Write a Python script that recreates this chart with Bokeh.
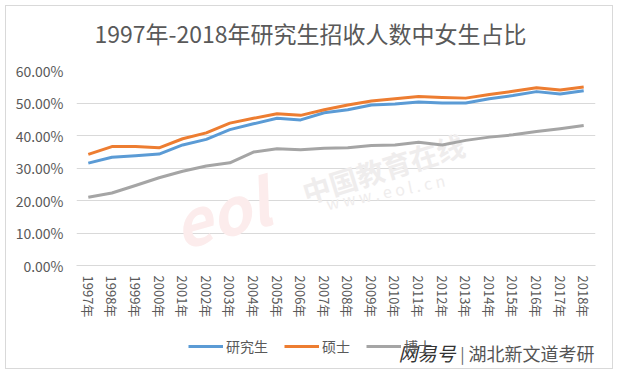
from bokeh.plotting import figure
from bokeh.layouts import column
from bokeh.models import Range1d, FixedTicker, NumeralTickFormatter, Legend, LegendItem, Label
from bokeh.embed import file_html
from bokeh.resources import INLINE

years = ["1997年", "1998年", "1999年", "2000年", "2001年", "2002年", "2003年", "2004年",
         "2005年", "2006年", "2007年", "2008年", "2009年", "2010年", "2011年", "2012年",
         "2013年", "2014年", "2015年", "2016年", "2017年", "2018年"]
yanjiusheng = [0.315, 0.333, 0.338, 0.343, 0.371, 0.388, 0.418, 0.436, 0.453, 0.448, 0.470,
               0.479, 0.494, 0.497, 0.503, 0.500, 0.500, 0.513, 0.523, 0.535, 0.528, 0.538]
shuoshi = [0.342, 0.366, 0.366, 0.362, 0.390, 0.408, 0.438, 0.453, 0.467, 0.462, 0.479,
           0.494, 0.506, 0.513, 0.520, 0.517, 0.515, 0.526, 0.536, 0.547, 0.540, 0.549]
boshi = [0.210, 0.223, 0.246, 0.270, 0.290, 0.306, 0.316, 0.349, 0.359, 0.356, 0.361,
         0.362, 0.369, 0.371, 0.379, 0.371, 0.385, 0.395, 0.402, 0.412, 0.421, 0.431]
series_names = ["研究生", "硕士", "博士"]
y_ticks = [0.0, 0.1, 0.2, 0.3, 0.4, 0.5, 0.6]
title_text = "1997年-2018年研究生招收人数中女生占比"
source_brand = "网易号"
source_name = "湖北新文道考研"

xs = list(range(len(years)))
series = [yanjiusheng, shuoshi, boshi]
colors = ["#5b9bd5", "#ed7d31", "#a5a5a5"]
FONT = "Noto Sans CJK SC"
TXT = "#595959"
W = 606
LEFT, RIGHT = 70, 17


def strip(h):
    # frames of the column's children are aligned with the chart's frame,
    # so the x range is given in pixel units of that frame
    f = figure(width=W, height=h, output_backend="svg", toolbar_location=None,
               x_range=Range1d(LEFT, W - RIGHT), y_range=Range1d(0, h),
               min_border=0, min_border_left=LEFT, min_border_right=RIGHT,
               x_axis_location=None, y_axis_location=None)
    f.grid.grid_line_color = None
    f.outline_line_color = None
    f.background_fill_color = "white"
    f.border_fill_color = "white"
    return f


# ---- title strip ----
p_top = strip(54)
p_top.add_layout(Label(x=304, y=28, text=title_text, text_font=FONT, text_font_size="23px",
                       text_color=TXT, text_align="center", text_baseline="middle"))

# ---- main chart ----
p = figure(width=W, height=264, output_backend="svg", toolbar_location=None,
           x_range=Range1d(-0.5, len(years) - 0.5), y_range=Range1d(0, 0.6),
           min_border_left=LEFT, min_border_right=RIGHT, min_border_top=10, min_border_bottom=59)
p.outline_line_color = None
p.background_fill_color = "white"
p.border_fill_color = "white"

p.xaxis.ticker = FixedTicker(ticks=xs)
p.xaxis.major_label_overrides = {i: years[i] for i in xs}
p.xaxis.major_label_orientation = "vertical"
p.xaxis.axis_line_color = "#d9d9d9"
p.xaxis.major_tick_line_color = None
p.xaxis.major_tick_out = 0
p.xaxis.major_tick_in = 0
p.xaxis.minor_tick_line_color = None
p.xaxis.major_label_standoff = 10
p.xaxis.major_label_text_font = FONT
p.xaxis.major_label_text_font_size = "13px"
p.xaxis.major_label_text_color = TXT

p.yaxis.ticker = FixedTicker(ticks=y_ticks)
p.yaxis.formatter = NumeralTickFormatter(format="0.00%")
p.yaxis.axis_line_color = None
p.yaxis.major_tick_line_color = None
p.yaxis.major_tick_out = 0
p.yaxis.major_tick_in = 0
p.yaxis.minor_tick_line_color = None
p.yaxis.major_label_standoff = 13
p.yaxis.major_label_text_font = FONT
p.yaxis.major_label_text_font_size = "14px"
p.yaxis.major_label_text_color = TXT

p.xgrid.grid_line_color = None
p.ygrid.grid_line_color = "#d9d9d9"
p.ygrid.ticker = FixedTicker(ticks=y_ticks)

# watermark
p.add_layout(Label(x=5.6, y=0.17, text="eol", text_font=FONT, text_font_size="64px",
                   text_font_style="bold italic", text_color="#fcecec",
                   text_align="center", text_baseline="middle", angle=0.28, level="underlay"))
p.add_layout(Label(x=12.5, y=0.30, text="中国教育在线", text_font=FONT, text_font_size="28px",
                   text_font_style="bold", text_color="#efeded",
                   text_align="center", text_baseline="middle", angle=0.30, level="underlay"))
p.add_layout(Label(x=12.6, y=0.228, text="w w w . e o l . c n", text_font=FONT, text_font_size="16px",
                   text_color="#efeded",
                   text_align="center", text_baseline="middle", angle=0.20, level="underlay"))

for vals, c in zip(series, colors):
    p.line(xs, vals, line_color=c, line_width=3, line_join="round")

# ---- legend / source strip ----
p_bot = strip(44)
items = []
for name, vals, c in zip(series_names, series, colors):
    r = p_bot.line(xs, vals, line_color=c, line_width=3, visible=False)
    items.append(LegendItem(label=name, renderers=[r]))
legend = Legend(items=items, orientation="horizontal", location=(112, 12), padding=0, margin=0,
                border_line_color=None, background_fill_alpha=0, inactive_fill_alpha=0,
                glyph_width=35, glyph_height=20, label_height=20, label_standoff=3, spacing=16,
                label_text_font=FONT, label_text_font_size="14px", label_text_color=TXT)
p_bot.add_layout(legend, "center")
p_bot.add_layout(Label(x=449, y=16, text=source_brand, text_font=FONT, text_font_size="19px",
                       text_font_style="italic", text_color="#333333",
                       text_align="right", text_baseline="middle"))
p_bot.add_layout(Label(x=456, y=16, text="|", text_font=FONT, text_font_size="16px",
                       text_color="#666666", text_align="center", text_baseline="middle"))
p_bot.add_layout(Label(x=588, y=16, text=source_name, text_font=FONT, text_font_size="18px",
                       text_color="#555555", text_align="right", text_baseline="middle"))

layout = column(p_top, p, p_bot, spacing=0,
                styles={"border": "1px solid #d9d9d9", "margin-left": "5px", "margin-top": "5px"})

open("out.html", "w").write(file_html(layout, INLINE))
